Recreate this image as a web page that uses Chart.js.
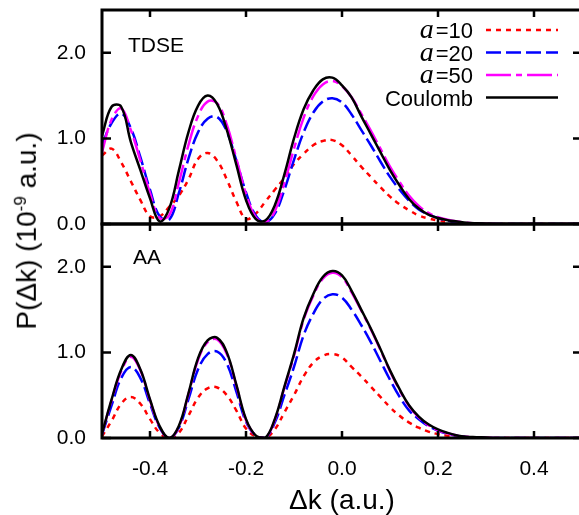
<!DOCTYPE html>
<html>
<head>
<meta charset="utf-8">
<script src="https://cdn.jsdelivr.net/npm/chart.js@4"></script>
<style>
html, body { margin: 0; padding: 0; overflow: hidden; background: #fff; width: 579px; height: 515px; }
canvas { position: absolute; left: 0; }
#top { top: 0; }
#bot { top: 220px; }
#ytitle {
  position: absolute; left: 27px; top: 231px;
  transform: translate(-50%, -50%) rotate(-90deg);
  font: 28px "Liberation Sans", Arial, sans-serif;
  white-space: nowrap; color: #000;
}
#ytitle sup { font-size: 17px; }
</style>
</head>
<body>
<canvas id="top" width="590" height="230"></canvas>
<canvas id="bot" width="590" height="295"></canvas>
<div id="ytitle">P(&Delta;k) (10<sup>-9</sup> a.u.)</div>
<script>
// delta k grid (a.u.)
const dk = [-0.50,-0.48,-0.46,-0.44,-0.42,-0.40,-0.38,-0.36,-0.34,-0.32,-0.30,-0.28,-0.26,-0.24,-0.22,-0.20,-0.18,-0.16,-0.14,-0.12,-0.10,-0.08,-0.06,-0.04,-0.02,0.00,
            0.02,0.04,0.06,0.08,0.10,0.12,0.14,0.16,0.18,0.20,0.22,0.24,0.26,0.28,0.30,0.32,0.34,0.36,0.38,0.40,0.42,0.44,0.46,0.48,0.50];

const xTicks = [-0.4, -0.2, 0.0, 0.2, 0.4];
const yTicks = [0, 1, 2];

const legendPrefix = ['a', 'a', 'a', ''];
const legendRest = ['=10', '=20', '=50', 'Coulomb'];

// TDSE panel
const tdseA10 = [0.80,0.88,0.72,0.50,0.28,0.09,0.09,0.20,0.33,0.52,0.76,0.83,0.74,0.52,0.26,0.06,0.12,0.26,0.40,0.54,0.70,0.82,0.92,0.97,0.98,0.92,
                 0.80,0.67,0.55,0.43,0.32,0.23,0.16,0.10,0.065,0.04,0.022,0.012,0.006,0.003,0,0,0,0,0,0,0,0,0,0,0];
const tdseA20 = [0.92,1.18,1.29,1.12,0.78,0.40,0.09,0.05,0.36,0.76,1.07,1.23,1.25,1.08,0.74,0.37,0.10,0.02,0.12,0.40,0.75,1.07,1.30,1.43,1.47,1.42,
                 1.28,1.10,0.92,0.73,0.55,0.40,0.27,0.17,0.11,0.07,0.04,0.022,0.011,0.005,0.002,0,0,0,0,0,0,0,0,0,0];
const tdseA50 = [0.84,1.22,1.35,1.10,0.74,0.36,0.07,0.10,0.48,0.92,1.26,1.43,1.41,1.16,0.76,0.35,0.08,0.02,0.15,0.48,0.88,1.24,1.49,1.63,1.67,1.61,
                 1.48,1.29,1.09,0.88,0.67,0.49,0.33,0.21,0.13,0.08,0.05,0.028,0.014,0.007,0.003,0,0,0,0,0,0,0,0,0,0];
const tdseCoul = [1.03,1.37,1.37,0.96,0.63,0.30,0.03,0.18,0.62,1.07,1.38,1.50,1.40,1.10,0.69,0.28,0.06,0.04,0.22,0.58,1.00,1.34,1.56,1.69,1.71,1.62,
                  1.48,1.26,1.05,0.84,0.63,0.45,0.29,0.18,0.11,0.07,0.045,0.03,0.015,0.008,0.004,0,0,0,0,0,0,0,0,0,0];

// AA panel
const aaA10 = [0.02,0.20,0.40,0.48,0.40,0.22,0.06,0.00,0.06,0.26,0.47,0.58,0.59,0.50,0.32,0.11,0.02,0.00,0.10,0.30,0.50,0.72,0.88,0.96,0.98,0.94,
               0.83,0.72,0.60,0.48,0.36,0.26,0.18,0.12,0.075,0.045,0.025,0.012,0.006,0.003,0,0,0,0,0,0,0,0,0,0,0];
const aaA20 = [0.04,0.38,0.70,0.83,0.70,0.40,0.12,0.00,0.12,0.45,0.80,0.98,1.01,0.87,0.54,0.19,0.03,0.00,0.18,0.50,0.83,1.20,1.45,1.62,1.68,1.64,
               1.50,1.32,1.12,0.90,0.68,0.48,0.32,0.22,0.14,0.085,0.05,0.025,0.012,0.006,0.003,0,0,0,0,0,0,0,0,0,0];
const aaA50 = [0.05,0.44,0.78,0.95,0.79,0.44,0.13,0.00,0.13,0.51,0.91,1.12,1.15,0.98,0.61,0.21,0.03,0.00,0.21,0.59,0.96,1.38,1.66,1.86,1.93,1.88,
               1.70,1.49,1.27,1.03,0.78,0.56,0.37,0.24,0.15,0.09,0.055,0.028,0.014,0.008,0.004,0,0,0,0,0,0,0,0,0,0];
const aaCoul = [0.05,0.45,0.80,0.97,0.80,0.45,0.14,0.00,0.14,0.52,0.93,1.14,1.17,1.00,0.62,0.22,0.03,0.00,0.22,0.60,0.98,1.40,1.68,1.88,1.95,1.90,
                1.72,1.50,1.28,1.04,0.79,0.57,0.38,0.25,0.16,0.10,0.06,0.03,0.015,0.01,0.005,0,0,0,0,0,0,0,0,0,0];

const styles = [
  { color: '#ff0000', dash: [5, 5], order: 3 },
  { color: '#0000ff', dash: [15, 5], order: 2 },
  { color: '#ff00ff', dash: [25, 5, 6, 5], order: 1 },
  { color: '#000000', dash: [], order: 0 }
];

const FONT = '"Liberation Sans", Arial, sans-serif';

const frame = {
  id: 'frame',
  afterDraw(chart, args, opts) {
    const ctx = chart.ctx, a = chart.chartArea;
    const x = chart.scales.x, y = chart.scales.y;
    ctx.save();
    ctx.strokeStyle = '#000';
    ctx.lineWidth = 3;
    ctx.strokeRect(a.left, a.top, a.right - a.left, a.bottom - a.top);
    ctx.lineWidth = 2.5;
    ctx.beginPath();
    xTicks.forEach(v => {
      const px = x.getPixelForValue(v);
      ctx.moveTo(px, a.top); ctx.lineTo(px, a.top + 7);
      ctx.moveTo(px, a.bottom); ctx.lineTo(px, a.bottom - 7);
    });
    yTicks.forEach(v => {
      const py = y.getPixelForValue(v);
      ctx.moveTo(a.left, py); ctx.lineTo(a.left + 9, py);
      ctx.moveTo(a.right, py); ctx.lineTo(a.right - 9, py);
    });
    ctx.stroke();
    ctx.fillStyle = '#000';
    ctx.font = '21px ' + FONT;
    ctx.textAlign = 'left';
    ctx.textBaseline = 'alphabetic';
    ctx.fillText(opts.label, opts.lx, opts.ly);
    ctx.restore();
  }
};

const legendBox = {
  id: 'legendBox',
  afterDraw(chart) {
    const ctx = chart.ctx;
    ctx.save();
    chart.data.datasets.forEach((ds, i) => {
      const yy = 30 + i * 22.5;
      const base = yy + 8;
      ctx.fillStyle = '#000';
      ctx.textAlign = 'left';
      ctx.textBaseline = 'alphabetic';
      ctx.font = '22px ' + FONT;
      const w2 = ctx.measureText(legendRest[i]).width;
      ctx.fillText(legendRest[i], 473 - w2, base);
      if (legendPrefix[i]) {
        ctx.font = 'italic 28px "Liberation Serif", serif';
        const w1 = ctx.measureText(legendPrefix[i]).width;
        ctx.fillText(legendPrefix[i], 473 - w2 - w1 - 2, base);
      }
      ctx.strokeStyle = ds.borderColor;
      ctx.lineWidth = 2.5;
      ctx.setLineDash(ds.borderDash);
      ctx.beginPath();
      ctx.moveTo(486, yy);
      ctx.lineTo(558, yy);
      ctx.stroke();
    });
    ctx.restore();
  }
};

function makeSets(list) {
  return list.map((vals, i) => ({
    data: dk.map((x, j) => ({ x: x, y: vals[j] })),
    borderColor: styles[i].color,
    borderDash: styles[i].dash,
    order: styles[i].order,
    borderWidth: 2.5,
    pointRadius: 0,
    tension: 0.4,
    fill: false
  }));
}

function noPad(s) {
  s.paddingTop = 0; s.paddingBottom = 0; s.paddingLeft = 0; s.paddingRight = 0;
}

function yScale() {
  return {
    type: 'linear', min: 0, max: 2.5,
    afterFit: s => { s.width = 102; noPad(s); },
    afterBuildTicks: s => { s.ticks = yTicks.map(v => ({ value: v })); },
    grid: { display: false, drawTicks: false },
    border: { display: false },
    ticks: { padding: 16, color: '#000', font: { family: FONT, size: 21 }, callback: v => v.toFixed(1) }
  };
}

new Chart('top', {
  type: 'line',
  data: { datasets: makeSets([tdseA10, tdseA20, tdseA50, tdseCoul]) },
  options: {
    responsive: false, animation: false, devicePixelRatio: 1,
    layout: { padding: { top: 10, right: 8, bottom: 6, left: 0 } },
    scales: {
      x: { type: 'linear', min: -0.5, max: 0.5, display: false, afterFit: s => noPad(s) },
      y: yScale()
    },
    plugins: {
      legend: { display: false }, tooltip: { enabled: false },
      frame: { label: 'TDSE', lx: 128, ly: 52 }
    }
  },
  plugins: [frame, legendBox]
});

new Chart('bot', {
  type: 'line',
  data: { datasets: makeSets([aaA10, aaA20, aaA50, aaCoul]) },
  options: {
    responsive: false, animation: false, devicePixelRatio: 1,
    layout: { padding: { top: 4, right: 8, bottom: 0, left: 0 } },
    scales: {
      x: {
        type: 'linear', min: -0.5, max: 0.5,
        afterFit: s => { s.height = 77; noPad(s); },
        afterBuildTicks: s => { s.ticks = xTicks.map(v => ({ value: v })); },
        grid: { display: false, drawTicks: false },
        border: { display: false },
        ticks: { padding: 19, maxRotation: 0, autoSkip: false, color: '#000', font: { family: FONT, size: 21 }, callback: v => v.toFixed(1) },
        title: { display: true, text: 'Δk (a.u.)', color: '#000', font: { family: FONT, size: 28, lineHeight: 1 }, padding: { top: 0, bottom: 0 } }
      },
      y: yScale()
    },
    plugins: {
      legend: { display: false }, tooltip: { enabled: false },
      frame: { label: 'AA', lx: 133, ly: 44 }
    }
  },
  plugins: [frame]
});
</script>
</body>
</html>
